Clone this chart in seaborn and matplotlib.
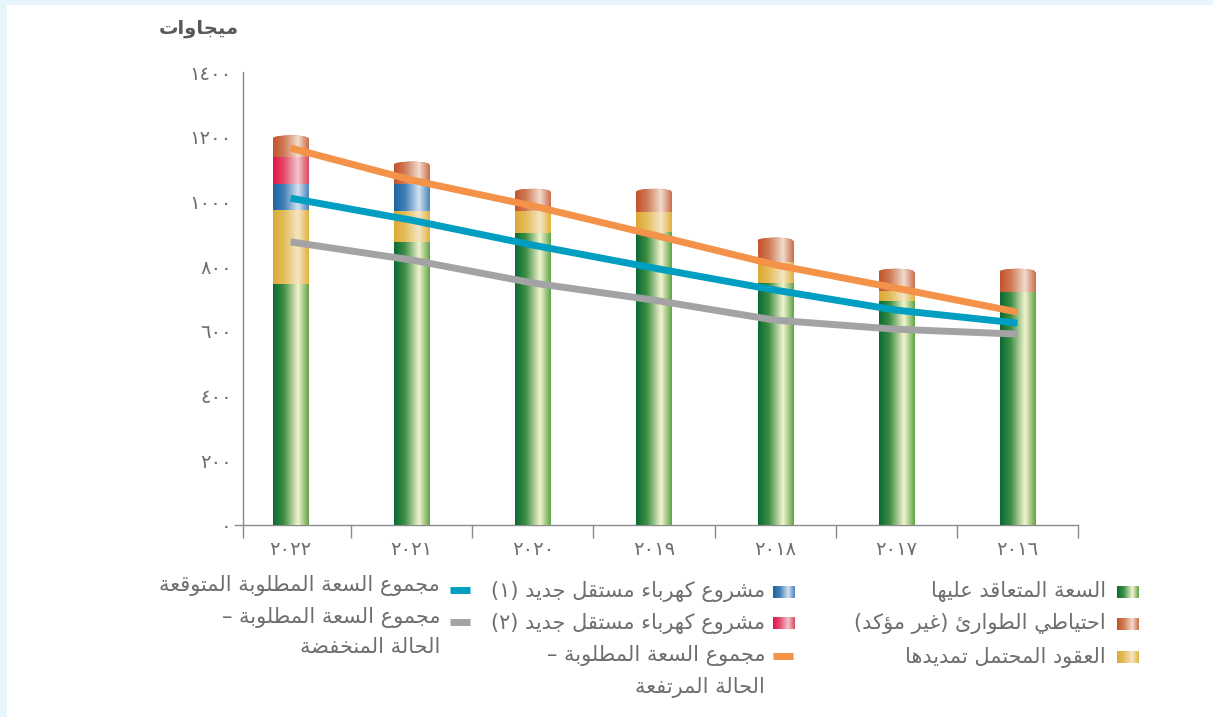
import numpy as np
import pandas as pd
import matplotlib
matplotlib.use("Agg")
import matplotlib.pyplot as plt
import seaborn as sns
from matplotlib.colors import LinearSegmentedColormap
from matplotlib.patches import Rectangle, Ellipse

# ---- data (MW), left to right as drawn ----
years = ['٢٠٢٢', '٢٠٢١', '٢٠٢٠', '٢٠١٩', '٢٠١٨', '٢٠١٧', '٢٠١٦']
contracted = [745, 875, 902, 905, 748, 692, 720]
extensions = [228, 95, 68, 62, 65, 31, 0]
ipp1 = [81, 84, 0, 0, 0, 0, 0]
ipp2 = [83, 0, 0, 0, 0, 0, 0]
reserve = [58, 60, 60, 63, 66, 60, 63]
expected_total = [1010, 942, 865, 794, 726, 664, 624]
low_total = [875, 819, 748, 695, 633, 605, 590]
high_total = [1165, 1066, 986, 896, 804, 732, 658]
y_ticks = [0, 200, 400, 600, 800, 1000, 1200, 1400]
y_tick_labels = ['٠', '٢٠٠', '٤٠٠', '٦٠٠', '٨٠٠', '١٠٠٠', '١٢٠٠', '١٤٠٠']

# ---- minimal arabic shaping (matplotlib has no complex text layout) ----
FORMS = {
    'ء': (0xFE80, 1), 'آ': (0xFE81, 2), 'أ': (0xFE83, 2), 'ؤ': (0xFE85, 2),
    'إ': (0xFE87, 2), 'ئ': (0xFE89, 4), 'ا': (0xFE8D, 2), 'ب': (0xFE8F, 4),
    'ة': (0xFE93, 2), 'ت': (0xFE95, 4), 'ث': (0xFE99, 4), 'ج': (0xFE9D, 4),
    'ح': (0xFEA1, 4), 'خ': (0xFEA5, 4), 'د': (0xFEA9, 2), 'ذ': (0xFEAB, 2),
    'ر': (0xFEAD, 2), 'ز': (0xFEAF, 2), 'س': (0xFEB1, 4), 'ش': (0xFEB5, 4),
    'ص': (0xFEB9, 4), 'ض': (0xFEBD, 4), 'ط': (0xFEC1, 4), 'ظ': (0xFEC5, 4),
    'ع': (0xFEC9, 4), 'غ': (0xFECD, 4), 'ف': (0xFED1, 4), 'ق': (0xFED5, 4),
    'ك': (0xFED9, 4), 'ل': (0xFEDD, 4), 'م': (0xFEE1, 4), 'ن': (0xFEE5, 4),
    'ه': (0xFEE9, 4), 'و': (0xFEED, 2), 'ى': (0xFEEF, 2), 'ي': (0xFEF1, 4),
}
MIRROR = {'(': ')', ')': '('}


def ar(text):
    chars = list(text)
    n = len(chars)
    out = []
    i = 0
    while i < n:
        c = chars[i]
        if c not in FORMS:
            out.append(c)
            i += 1
            continue
        prev = chars[i - 1] if i > 0 else None
        joins_prev = prev in FORMS and FORMS[prev][1] == 4
        if c == 'ل' and i + 1 < n and chars[i + 1] == 'ا':
            out.append(chr(0xFEFC if joins_prev else 0xFEFB))
            i += 2
            continue
        nxt = chars[i + 1] if i + 1 < n else None
        joins_next = FORMS[c][1] == 4 and nxt in FORMS
        base = FORMS[c][0]
        if joins_prev and joins_next:
            out.append(chr(base + 3))
        elif joins_prev:
            out.append(chr(base + 1))
        elif joins_next:
            out.append(chr(base + 2))
        else:
            out.append(chr(base))
        i += 1
    # visual order: reverse, but keep digit runs left-to-right
    tokens = []
    for c in out:
        if c.isdigit() and tokens and tokens[-1][-1].isdigit():
            tokens[-1] += c
        else:
            tokens.append(c)
    return ''.join(MIRROR.get(t, t) for t in reversed(tokens))


W, H = 1213, 717
TXT = '#6d6e71'

grad = {
    'green': ['#0b6a35', '#3f8f45', '#f3f4cf', '#62a449'],
    'yellow': ['#dcaa33', '#e4bc5a', '#f4e6c4', '#e1b23f'],
    'blue': ['#1f64a0', '#3f7fb6', '#d4e2f0', '#4a86bd'],
    'red': ['#e2154b', '#e54a6c', '#f2c4cc', '#d84a5c'],
    'brown': ['#c4542b', '#cf7a55', '#f1dccd', '#cc6f4c'],
}


def cmap_of(name):
    c = grad[name]
    return LinearSegmentedColormap.from_list(name, list(zip([0, 0.3, 0.7, 1], c)))


gradient_row = np.linspace(0, 1, 64).reshape(1, -1)

fig = plt.figure(figsize=(W / 100, H / 100), dpi=100, facecolor='#e9f5fc')
fig.add_artist(Rectangle((7 / W, 0), 1, 1 - 5 / H, transform=fig.transFigure,
                         facecolor='white', edgecolor='none', zorder=-1))

ax = fig.add_axes([230 / W, 1 - 525 / H, 848 / W, 453 / H])
ax.set_facecolor('none')


def fill_gradient(patch, name, z):
    bb = patch.get_extents().transformed(ax.transData.inverted()) if isinstance(patch, Ellipse) else None
    if bb is None:
        x0, y0 = patch.get_x(), patch.get_y()
        x1, y1 = x0 + patch.get_width(), y0 + patch.get_height()
    else:
        x0, y0, x1, y1 = bb.x0, bb.y0, bb.x1, bb.y1
    im = ax.imshow(gradient_row, cmap=cmap_of(name), aspect='auto',
                   extent=[x0, x1, y0, y1], zorder=z, interpolation='bilinear')
    im.set_clip_path(patch)


# stacked bars drawn as cumulative totals, tallest first
layers = [('green', contracted), ('yellow', extensions), ('blue', ipp1),
          ('red', ipp2), ('brown', reserve)]
cum = np.cumsum([v for _, v in layers], axis=0)
cap_h = 18  # cylinder cap height in data units (~6 px)
for k in range(len(layers) - 1, -1, -1):
    name = layers[k][0]
    z = 2 + (len(layers) - k) * 0.1
    before = len(ax.patches)
    sns.barplot(x=years, y=cum[k], color=grad[name][0], saturation=1,
                width=0.29, linewidth=0, ax=ax, zorder=z)
    for p in ax.patches[before:]:
        if p.get_height() <= 0:
            continue
        fill_gradient(p, name, z + 0.01)
        if k == len(layers) - 1:
            cap = Ellipse((p.get_x() + p.get_width() / 2, p.get_y() + p.get_height()),
                          p.get_width(), cap_h, facecolor=grad[name][0],
                          edgecolor='none', zorder=z)
            ax.add_patch(cap)
            fig.canvas.draw()
            fill_gradient(cap, name, z + 0.01)

lines = [(high_total, '#f39248'), (expected_total, '#009fc2'), (low_total, '#a3a3a5')]
for vals, col in lines:
    sns.lineplot(x=years, y=vals, color=col, linewidth=5, sort=False, ax=ax,
                 zorder=10, solid_capstyle='butt')

ax.set_xlim(-0.5, 6.5)
ax.set_ylim(0, 1400)
ax.set_xlabel('')
ax.set_ylabel('')

for s in ['top', 'right']:
    ax.spines[s].set_visible(False)
for s in ['left', 'bottom']:
    ax.spines[s].set_color('#8a8a8a')
    ax.spines[s].set_linewidth(1)
ax.spines['left'].set_position(('data', -0.393))
ax.spines['left'].set_bounds(0, 1400)
ax.spines['bottom'].set_bounds(-0.46, 6.5)

ax.set_yticks(y_ticks)
ax.set_yticklabels(y_tick_labels)
ax.tick_params(axis='y', length=0, pad=8, labelsize=14, labelcolor=TXT)
ax.set_xticks(range(len(years)))
ax.set_xticklabels(years)
ax.tick_params(axis='x', length=0, pad=11, labelsize=14, labelcolor=TXT)
ax.set_xticks([-0.393] + [i + 0.5 for i in range(7)], minor=True)
ax.tick_params(axis='x', which='minor', length=9, width=1, color='#8a8a8a')

fig.text(199 / W, 1 - 29 / H, ar('ميجاوات'), ha='center', va='center',
         fontsize=14, fontweight='bold', color='#58595b')


# ---- legend (right-to-left, swatch on the right of the text) ----
def fx(x):
    return x / W


def fy(y):
    return 1 - y / H


def swatch(name, x0, y0, w=22, h=12):
    sa = fig.add_axes([fx(x0), fy(y0 + h), w / W, h / H])
    sa.imshow(gradient_row, cmap=cmap_of(name), aspect='auto', interpolation='bilinear')
    sa.set_axis_off()


def line_swatch(col, x0, y, w=20):
    fig.add_artist(plt.Line2D([fx(x0), fx(x0 + w)], [fy(y), fy(y)], color=col,
                              linewidth=5, solid_capstyle='butt', transform=fig.transFigure))


def label(text, x, y):
    fig.text(fx(x), fy(y), ar(text), ha='right', va='center', fontsize=15, color=TXT)


swatch('green', 1117, 586)
label('السعة المتعاقد عليها', 1106, 592)
swatch('brown', 1117, 618)
label('احتياطي الطوارئ (غير مؤكد)', 1106, 624)
swatch('yellow', 1117, 651)
label('العقود المحتمل تمديدها', 1106, 657)

swatch('blue', 773, 586)
label('مشروع كهرباء مستقل جديد (١)', 765, 592)
swatch('red', 773, 617)
label('مشروع كهرباء مستقل جديد (٢)', 765, 623)
line_swatch('#f39248', 773, 656)
label('مجموع السعة المطلوبة –', 765, 655)
label('الحالة المرتفعة', 765, 687)

line_swatch('#009fc2', 450, 590)
label('مجموع السعة المطلوبة المتوقعة', 440, 586)
line_swatch('#a3a3a5', 450, 622)
label('مجموع السعة المطلوبة –', 440, 617)
label('الحالة المنخفضة', 440, 647)

fig.savefig('out.png', dpi=100, facecolor=fig.get_facecolor())
